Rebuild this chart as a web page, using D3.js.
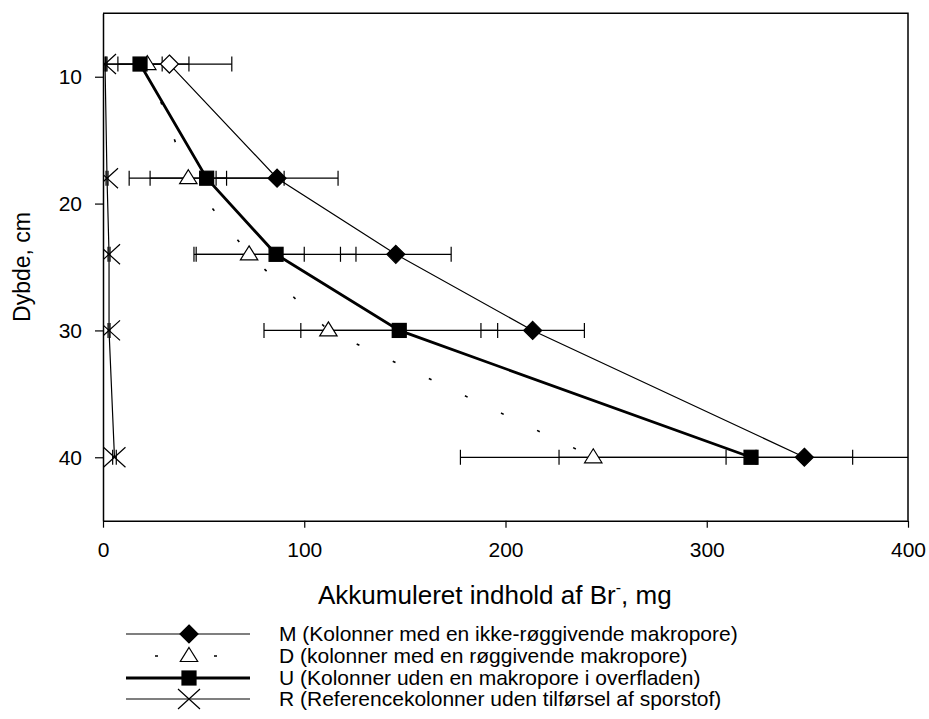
<!DOCTYPE html>
<html>
<head>
<meta charset="utf-8">
<script src="https://cdn.jsdelivr.net/npm/d3@7"></script>
<style>
  body { margin: 0; background: #fff; }
  text { font-family: "Liberation Sans", Arial, sans-serif; fill: #000; }
</style>
</head>
<body>
<svg id="chart" width="929" height="719"></svg>
<script>
// Depth of each measurement (cm)
const depths = [9, 18, 24, 30, 40];

// Accumulated Br- content (mg) per series, with error half-widths
const seriesM = [33, 86.5, 145.5, 213.5, 348.5];
const errM    = [31, 30.3, 27.5, 25.7, 24];
const seriesD = [22, 42.4, 72.6, 112, 243.6];
const errD    = [20.7, 19, 27.4, 32, 66];
const seriesU = [18.4, 51.5, 86, 147.2, 322];
const errU    = [11, 38.5, 39.7, 48.9, 95.4];
const seriesR = [1, 2, 3, 3, 5.7];
const errR    = [0.5, 0.5, 0.5, 0.5, 0.9];

const xTicks = [0, 100, 200, 300, 400];
const yTicks = [10, 20, 30, 40];

const legendLabels = [
  "M (Kolonner med en ikke-røggivende makropore)",
  "D (kolonner med en røggivende makropore)",
  "U (Kolonner uden en makropore i overfladen)",
  "R (Referencekolonner uden tilførsel af sporstof)"
];

const svg = d3.select("#chart");
const plot = { left: 103, right: 908, top: 13.3, bottom: 520.7 };

const x = d3.scaleLinear().domain([0, 400]).range([plot.left, plot.right]);
const y = d3.scaleLinear().domain([5, 45]).range([plot.top, plot.bottom]);

// Marker shapes
const markers = {
  diamond: g => g.append("path").attr("d", "M0,-9L9,0L0,9L-9,0Z"),
  triangle: g => g.append("path").attr("d", "M0,-8.5L8.7,5.5L-8.7,5.5Z"),
  square: g => g.append("rect").attr("x", -7).attr("y", -7).attr("width", 14).attr("height", 14),
  cross: g => g.append("path").attr("d", "M-11,-10L11,10M-11,10L11,-10")
};

const series = [
  { name: "M", vals: seriesM, err: errM, marker: "diamond", width: 1.2, dash: null, fill: "#000" },
  { name: "D", vals: seriesD, err: errD, marker: "triangle", width: 1.6, dash: "3,37", fill: "#fff" },
  { name: "U", vals: seriesU, err: errU, marker: "square", width: 2.8, dash: null, fill: "#000" },
  { name: "R", vals: seriesR, err: errR, marker: "cross", width: 1.2, dash: null, fill: "none" }
];

// Clip for marks at the plot edge
svg.append("defs").append("clipPath").attr("id", "plotClip")
  .append("rect")
  .attr("x", plot.left).attr("y", plot.top)
  .attr("width", plot.right - plot.left).attr("height", plot.bottom - plot.top);

// Plot frame (top and right)
svg.append("path")
  .attr("d", `M${plot.left},${plot.top}H${plot.right}V${plot.bottom}`)
  .attr("fill", "none").attr("stroke", "#000").attr("stroke-width", 1.5);

// Axes
const xAxis = d3.axisBottom(x).tickValues(xTicks).tickSize(7).tickSizeOuter(0).tickPadding(14);
const yAxis = d3.axisLeft(y).tickValues(yTicks).tickSize(8).tickSizeOuter(0).tickPadding(13);

const gx = svg.append("g").attr("transform", `translate(0,${plot.bottom})`).call(xAxis);
const gy = svg.append("g").attr("transform", `translate(${plot.left},0)`).call(yAxis);
[gx, gy].forEach(g => {
  g.select(".domain").attr("stroke", "#000").attr("stroke-width", 1.5);
  g.selectAll(".tick line").attr("stroke", "#000").attr("stroke-width", 1.2);
  g.selectAll(".tick text").attr("font-size", 21).attr("fill", "#000")
    .style("font-family", '"Liberation Sans", Arial, sans-serif');
});

const marks = svg.append("g").attr("clip-path", "url(#plotClip)");
const capH = 7.5;

// Horizontal error bars
series.forEach(s => {
  const g = marks.append("g").attr("stroke", "#000").attr("stroke-width", 1.2).attr("fill", "none");
  depths.forEach((d, i) => {
    const lo = x(s.vals[i] - s.err[i]), hi = x(s.vals[i] + s.err[i]), yy = y(d);
    g.append("line").attr("x1", lo).attr("x2", hi).attr("y1", yy).attr("y2", yy);
    g.append("line").attr("x1", lo).attr("x2", lo).attr("y1", yy - capH).attr("y2", yy + capH);
    g.append("line").attr("x1", hi).attr("x2", hi).attr("y1", yy - capH).attr("y2", yy + capH);
  });
});

// Series lines
const line = d3.line().x(d => x(d[0])).y(d => y(d[1]));
series.forEach(s => {
  marks.append("path")
    .datum(s.vals.map((v, i) => [v, depths[i]]))
    .attr("d", line)
    .attr("fill", "none")
    .attr("stroke", "#000")
    .attr("stroke-width", s.width)
    .attr("stroke-dasharray", s.dash);
});

// Markers
series.forEach(s => {
  s.vals.forEach((v, i) => {
    const g = marks.append("g").attr("transform", `translate(${x(v)},${y(depths[i])})`);
    markers[s.marker](g);
    // the shallowest M point is drawn as an open diamond
    const fill = (s.name === "M" && i === 0) ? "#fff" : s.fill;
    g.select("*").attr("fill", fill).attr("stroke", "#000").attr("stroke-width", 1.2);
  });
});

// Axis titles
svg.append("text")
  .attr("transform", `translate(30,${(plot.top + plot.bottom) / 2}) rotate(-90)`)
  .attr("text-anchor", "middle")
  .attr("font-size", 23)
  .text("Dybde, cm");

const xt = svg.append("text")
  .attr("x", 318)
  .attr("y", 604)
  .attr("font-size", 26);
xt.append("tspan").text("Akkumuleret indhold af Br");
xt.append("tspan").attr("font-size", 16).attr("dy", -11).text("-");
xt.append("tspan").attr("dy", 11).text(", mg");

// Legend
const legend = svg.append("g");
const rowY = [634, 656, 678, 699];
const lx0 = 126, lx1 = 250, lmx = 189, ltx = 279;
series.forEach((s, i) => {
  const yy = rowY[i];
  legend.append("line")
    .attr("x1", lx0).attr("x2", lx1).attr("y1", yy).attr("y2", yy)
    .attr("stroke", "#000").attr("stroke-width", s.width)
    .attr("stroke-dasharray", s.dash ? "3,56" : null)
    .attr("stroke-dashoffset", s.dash ? 30 : null);
  const g = legend.append("g").attr("transform", `translate(${lmx},${yy})`);
  markers[s.marker](g);
  g.select("*").attr("fill", s.fill).attr("stroke", "#000").attr("stroke-width", 1.2);
  legend.append("text")
    .attr("x", ltx).attr("y", yy).attr("dy", "0.35em")
    .attr("font-size", 21)
    .text(legendLabels[i]);
});
</script>
</body>
</html>
